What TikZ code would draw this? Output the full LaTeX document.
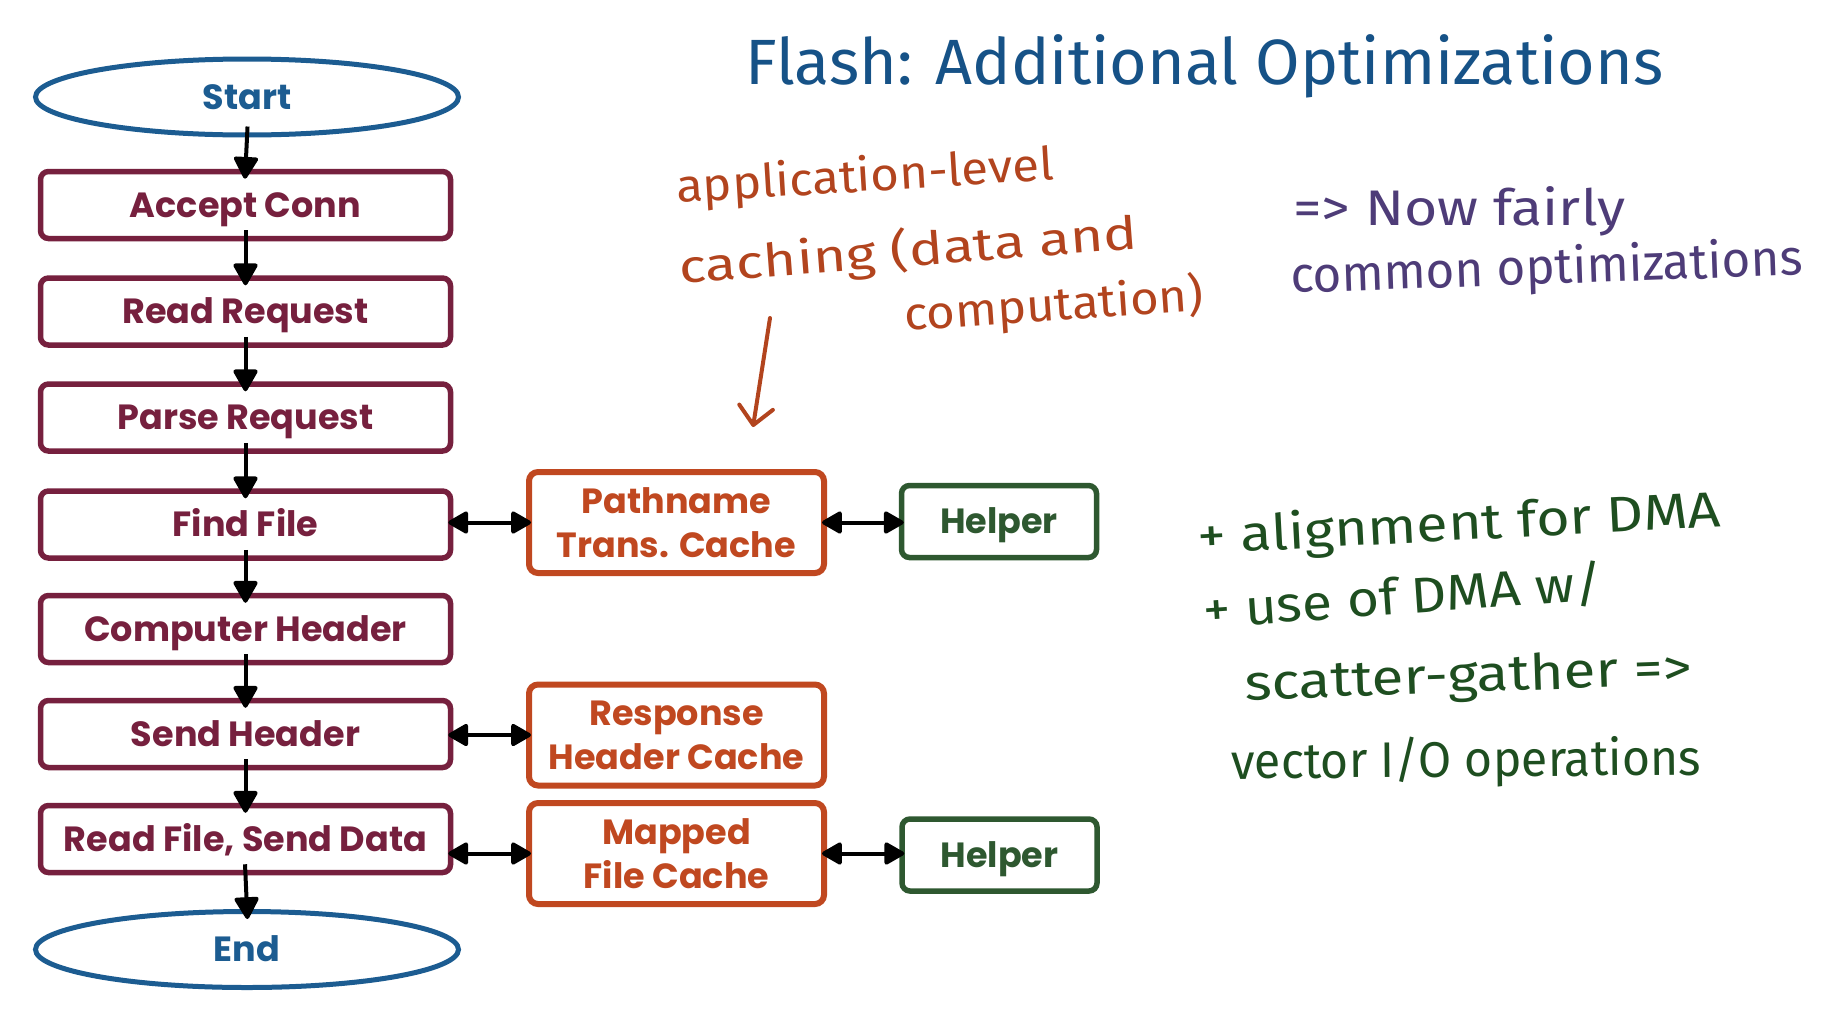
\documentclass[tikz,border=0pt]{standalone}
\usepackage{fontspec}
\usepackage{graphicx}
\setmainfont{Poppins}
\newfontfamily\hand{Fira Sans}
\usetikzlibrary{shapes.geometric,arrows.meta}
\definecolor{boxmaroon}{RGB}{118,32,62}
\definecolor{ellblue}{RGB}{28,92,145}
\definecolor{cacheorange}{RGB}{192,72,32}
\definecolor{helpgreen}{RGB}{46,88,48}
\definecolor{titleblue}{RGB}{22,82,135}
\definecolor{handorange}{RGB}{178,68,30}
\definecolor{handpurple}{RGB}{78,60,120}
\definecolor{handgreen}{RGB}{30,78,32}
\newcommand\hw[2]{\resizebox{#1pt}{\height}{#2}}
\begin{document}
\begin{tikzpicture}[x=1pt,y=-1pt,
  flowtext/.style={font=\fontsize{35}{44}\selectfont\bfseries},
  stepbox/.style={draw=boxmaroon, line width=5.5pt, rounded corners=8pt, minimum width=410pt, minimum height=67pt, inner sep=0pt, text=boxmaroon, flowtext, text height=24.5pt, text depth=0pt},
  term/.style={ellipse, draw=ellblue, line width=5pt, minimum width=423pt, minimum height=76pt, inner sep=0pt, text=ellblue, flowtext, text height=24.5pt, text depth=0pt},
  cachebox/.style={draw=cacheorange, line width=6pt, rounded corners=9pt, minimum width=295pt, minimum height=101pt, inner sep=0pt, text=cacheorange, flowtext, align=center},
  helperbox/.style={draw=helpgreen, line width=5.5pt, rounded corners=8pt, minimum width=195pt, minimum height=72pt, inner sep=0pt, text=helpgreen, flowtext, text height=24.5pt, text depth=0pt},
  flow/.style={line width=4pt, -{Triangle[length=24pt,width=26pt,round]}, shorten <=-11pt, shorten >=-10pt},
  link/.style={line width=4pt, {Triangle[length=22pt,width=24pt,round]}-{Triangle[length=22pt,width=24pt,round]}, shorten <=-5pt, shorten >=-5pt},
  handtext/.style={anchor=base west, inner sep=0pt, font=\hand\fontsize{50}{56}\selectfont}
]
\fill[white] (0,0) rectangle (1824,1018);
\useasboundingbox (0,0) rectangle (1824,1018);

% left column
\node[term] (start) at (247,97) {Start};
\node[stepbox] (acc) at (245.5,205) {Accept Conn};
\node[stepbox] (read) at (245.5,311.5) {Read Request};
\node[stepbox] (parse) at (245.5,417.5) {Parse Request};
\node[stepbox] (find) at (245.5,524.5) {Find File};
\node[stepbox] (comp) at (245.5,629) {Computer Header};
\node[stepbox] (send) at (245.5,734) {Send Header};
\node[stepbox] (rfile) at (245.5,839) {Read File, Send Data};
\node[term] (stop) at (247,949.5) {End};

% caches
\node[cachebox] (path) at (676.5,522.5) {Pathname\\Trans. Cache};
\node[cachebox] (resp) at (676.5,735) {Response\\Header Cache};
\node[cachebox] (mapped) at (676.5,853.5) {Mapped\\File Cache};

% helpers
\node[helperbox] (help1) at (999,521.5) {Helper};
\node[helperbox] (help2) at (999.5,855) {Helper};

% flow arrows
\draw[flow] (start.south) -- (acc.north);
\draw[flow] (acc.south) -- (read.north);
\draw[flow] (read.south) -- (parse.north);
\draw[flow] (parse.south) -- (find.north);
\draw[flow] (find.south) -- (comp.north);
\draw[flow] (comp.south) -- (send.north);
\draw[flow] (send.south) -- (rfile.north);
\draw[flow] (rfile.south) -- (stop.north);

% links
\draw[link] (path.west -| find.east) -- (path.west);
\draw[link] (path.east) -- (path.east -| help1.west);
\draw[link] (resp.west -| send.east) -- (resp.west);
\draw[link] (mapped.west -| rfile.east) -- (mapped.west);
\draw[link] (mapped.east) -- (mapped.east -| help2.west);

% title
\node[handtext, text=titleblue, font=\hand\fontsize{64}{70}\selectfont] (title) at (745,84) {\hw{918}{Flash: Additional Optimizations}};

% orange annotation
\node[handtext, text=handorange, rotate=3.5, font=\hand\fontsize{46}{50}\selectfont] (an1) at (677,203) {\hw{378}{application-level}};
\node[handtext, text=handorange, rotate=4.4, font=\hand\fontsize{46}{50}\selectfont] (an2) at (680,284) {\hw{460}{caching (data and}};
\node[handtext, text=handorange, rotate=4, font=\hand\fontsize{46}{50}\selectfont] (an3) at (905,331) {\hw{300}{computation)}};
\coordinate (arrs) at (770,318);
\coordinate (arre) at (753,427);
\draw[handorange, line width=4pt, line cap=round, -{Straight Barb[length=18pt,width=34pt,round]}] (arrs) -- (arre);

% purple annotation
\node[handtext, text=handpurple] (pu1) at (1293,225) {\hw{332}{=> Now fairly}};
\node[handtext, text=handpurple, rotate=2] (pu2) at (1291,293) {\hw{512}{common optimizations}};

% green annotation
\node[handtext, text=handgreen, rotate=3] (gr1) at (1198,554) {\hw{524}{+ alignment for DMA}};
\node[handtext, text=handgreen, rotate=4] (gr2) at (1204,628) {\hw{401}{+ use of DMA w/}};
\node[handtext, text=handgreen, rotate=2] (gr3) at (1245,700) {\hw{448}{scatter-gather =>}};
\node[handtext, text=handgreen, rotate=0.5] (gr4) at (1231,779) {\hw{470}{vector I/O operations}};
\end{tikzpicture}
\end{document}
